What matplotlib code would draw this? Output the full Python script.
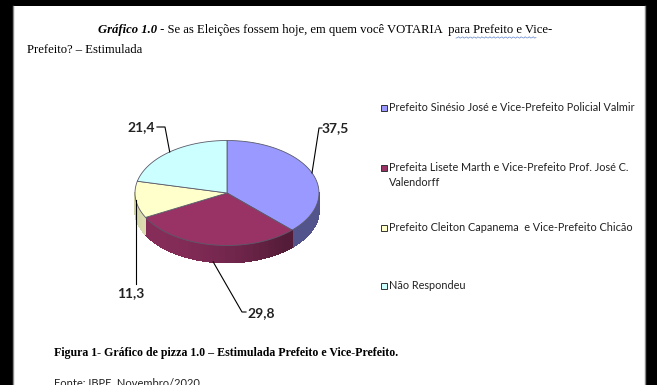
import matplotlib
matplotlib.use("Agg")
import matplotlib.pyplot as plt
import numpy as np

# dados
nomes = ["Prefeito Sinésio José e Vice-Prefeito Policial Valmir",
         "Prefeita Lisete Marth e Vice-Prefeito Prof. José C.\nValendorff",
         "Prefeito Cleiton Capanema  e Vice-Prefeito Chicão",
         "Não Respondeu"]
valores = [37.5, 29.8, 11.3, 21.4]
rotulos = ["37,5", "29,8", "11,3", "21,4"]
cores = ["#9999FF", "#993366", "#FFFFCC", "#CCFFFF"]

W, H = 657, 385
fig = plt.figure(figsize=(W / 100, H / 100), dpi=100)
ax = fig.add_axes([0, 0, 1, 1])
ax.set_xlim(0, W)
ax.set_ylim(H, 0)
ax.axis("off")

# pizza 3D (em pixels)
cx, cy, rx, ry, prof = 227, 193, 92, 52.5, 17


def ponto(t, dy=0):
    r = np.radians(t)
    return cx + rx * np.cos(r), cy - ry * np.sin(r) + dy


def sombra(rgb, t):
    f = 0.55 + 0.32 * max(0.0, np.cos(np.radians(t + 140)))
    return tuple(min(1, c * f) for c in rgb)


tot = sum(valores)
ini = 90.0
angs = []
for v in valores:
    fim = ini - 360 * v / tot
    angs.append((ini, fim))
    ini = fim

# laterais (parte da frente)
for (a0, a1), cor in zip(angs, cores):
    rgb = matplotlib.colors.to_rgb(cor)
    lo, hi = min(a0, a1), max(a0, a1)
    for k in (0, -360):
        s0, s1 = max(lo + k, -180), min(hi + k, 0)
        if s1 <= s0:
            continue
        # contorno da lateral com antialias, depois faixas sombreadas por cima
        tl = np.linspace(s0, s1, 60)
        cont = [ponto(t) for t in tl] + [ponto(t, prof) for t in tl[::-1]]
        ax.fill([q[0] for q in cont], [q[1] for q in cont], color=sombra(rgb, (s0 + s1) / 2),
                lw=0.5, ec=sombra(rgb, -20), zorder=2)
        ts = np.linspace(s0, s1, int((s1 - s0) / 2) + 2)
        for t0, t1 in zip(ts[:-1], ts[1:]):
            p = [ponto(t0), ponto(t1), ponto(t1, prof), ponto(t0, prof)]
            c = sombra(rgb, (t0 + t1) / 2)
            ax.fill([q[0] for q in p], [q[1] for q in p], color=c, lw=0.6, ec=c,
                    antialiased=False, zorder=2)

# topo
for (a0, a1), cor in zip(angs, cores):
    ts = np.linspace(a0, a1, 120)
    xs = [cx] + [ponto(t)[0] for t in ts]
    ys = [cy] + [ponto(t)[1] for t in ts]
    ax.fill(xs, ys, color=cor, ec="#5a5a6a", lw=0.6, zorder=3)

# rotulos e linhas guia
pos_rot = [(322, 128, "left"), (247, 313, "left"), (131, 293, "center"), (155, 127, "right")]
cotovelo = [[(319, 128), (322, 128)], [(242, 312), (246, 312)], [(136, 284)], [(165, 127), (157, 127)]]
for i, ((a0, a1), txt) in enumerate(zip(angs, rotulos)):
    m = (a0 + a1) / 2
    px, py = ponto(m, prof if np.sin(np.radians(m)) < -0.5 else 0)
    if i == 2:
        cotovelo[i] = [(px, 284)]
    pts = [(px, py)] + cotovelo[i]
    ax.plot([q[0] for q in pts], [q[1] for q in pts], color="black", lw=0.8, zorder=4)
    x, y, ha = pos_rot[i]
    ax.text(x, y, txt, ha=ha, va="center", fontsize=10, fontweight="bold",
            family="Lato", color="#222222")

# legenda
leg_y = [108, 168, 228, 286]
for nome, cor, y in zip(nomes, cores, leg_y):
    ax.add_patch(plt.Rectangle((380.5, y - 3.5), 6, 6, fc=cor, ec="#333333", lw=0.7, zorder=4))
    ax.text(389, y - 6, nome, ha="left", va="top", fontsize=7.85, family="Lato",
            color="#222222", linespacing=1.4)

# titulo
t1 = ax.text(98, 30, "Gráfico 1.0", ha="left", va="center", fontsize=9.1,
             family="Liberation Serif", fontweight="bold", style="italic")
fig.canvas.draw()
bb = t1.get_window_extent(fig.canvas.get_renderer())
ax.text(bb.x1, 30, " - Se as Eleições fossem hoje, em quem você VOTARIA  para Prefeito e Vice-",
        ha="left", va="center", fontsize=9.1, family="Liberation Serif")
ax.text(27, 50, "Prefeito? – Estimulada", ha="left", va="center", fontsize=9.1,
        family="Liberation Serif")
ux = np.linspace(456, 536, 60)
ax.plot(ux, 37.5 + 0.8 * np.sin(ux * 1.6), color="#6688cc", lw=0.5)

# legenda da figura
ax.text(54, 353, "Figura 1- Gráfico de pizza 1.0 – Estimulada Prefeito e Vice-Prefeito.",
        ha="left", va="center", fontsize=8.6, family="Liberation Serif", fontweight="bold")
ax.text(54, 377, "Fonte: IBPE, Novembro/2020", ha="left", va="top", fontsize=8,
        family="Lato", color="#222222")

# bordas pretas
for r in [(0, 0, 13, H), (0, 0, W, 6), (645, 0, 12, H)]:
    ax.add_patch(plt.Rectangle(r[:2], r[2], r[3], fc="black", ec="none", zorder=10))
ax.plot([13, 13], [6, H], color="#888888", lw=1, zorder=11)
ax.plot([644.5, 644.5], [6, H], color="#888888", lw=1, zorder=11)

fig.savefig("out.png", dpi=100)
